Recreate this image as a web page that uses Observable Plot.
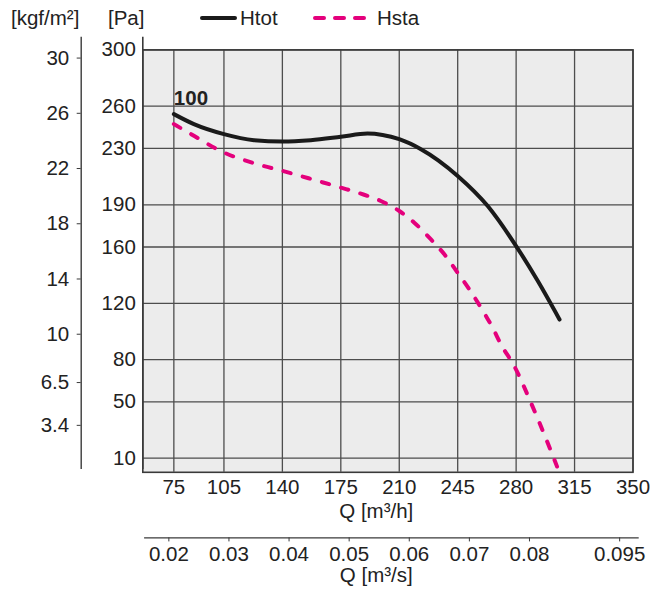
<!DOCTYPE html>
<html>
<head>
<meta charset="utf-8">
<script src="https://cdn.jsdelivr.net/npm/d3@7"></script>
<script src="https://cdn.jsdelivr.net/npm/@observablehq/plot@0.6"></script>
<style>
  html, body { margin: 0; padding: 0; background: #fff; }
  body { width: 653px; height: 594px; overflow: hidden; font-family: "Liberation Sans", Arial, sans-serif; color: #222; }
  #head { position: relative; height: 37px; font-size: 20.5px; }
  #head span { position: absolute; top: 6px; line-height: 24px; white-space: nowrap; }
  #head svg { position: absolute; top: 12px; }
</style>
</head>
<body>
<div id="head"></div>
<div id="chart"></div>
<script>
// ---- data ----
const qTicksH = [75, 105, 140, 175, 210, 245, 280, 315, 350];          // Q [m³/h]
const qTicksS = [0.02, 0.03, 0.04, 0.05, 0.06, 0.07, 0.08, 0.095];     // Q [m³/s]
const paTicks = [300, 260, 230, 190, 160, 120, 80, 50, 10];            // [Pa]
const kgfTicks = [30, 26, 22, 18, 14, 10, 6.5, 3.4];                   // [kgf/m²]

const qTot = [75, 87, 105, 123, 140, 157, 175, 191, 200, 210, 223, 245, 263, 280, 293, 306];
const hTot = [254.4, 247.3, 240.2, 235.9, 234.9, 235.9, 238.3, 240.6, 239.6, 236.6, 229.5, 210.5, 189.1, 160.7, 135.8, 108.5];

const qSta = [75, 87, 102, 125, 140, 161, 175, 187, 199, 210, 219, 229, 237, 245, 252, 259, 266, 271, 279, 289, 299, 304.5];
const hSta = [247.3, 239, 228.8, 218.8, 214.1, 207, 202.2, 197.9, 192.7, 185.6, 177.3, 165.4, 154.8, 141.7, 129.9, 116.8, 102.5, 90.7, 75.2, 49.1, 20.6, 4.1];

const curveLabel = "100";
const seriesNames = ["Htot", "Hsta"];
const colors = {Htot: "#1a1a1a", Hsta: "#e4007c"};

// ---- header (units + legend) ----
const head = document.getElementById("head");
head.innerHTML = `
  <span style="left:11px">[kgf/m²]</span>
  <span style="left:108px">[Pa]</span>
  <svg style="left:199px" width="40" height="12"><line x1="3" x2="36" y1="6" y2="6" stroke="${colors.Htot}" stroke-width="4" stroke-linecap="round"/></svg>
  <span style="left:240px">${seriesNames[0]}</span>
  <svg style="left:311px" width="60" height="12"><line x1="4" x2="56" y1="6" y2="6" stroke="${colors.Hsta}" stroke-width="4" stroke-linecap="round" stroke-dasharray="9,11"/></svg>
  <span style="left:377px">${seriesNames[1]}</span>
`;

// ---- chart ----
const tot = qTot.map((q, i) => ({q, h: hTot[i]}));
const sta = qSta.map((q, i) => ({q, h: hSta[i]}));
const FS = 20.5;
const gridColor = "#4d4d4d";

const chart = Plot.plot({
  width: 653,
  height: 557,
  marginTop: 12.4,
  marginBottom: 122.2,
  marginLeft: 142.3,
  marginRight: 20.5,
  style: {fontFamily: "'Liberation Sans', Arial, sans-serif", fontSize: FS + "px", color: "#222", background: "#fff", overflow: "visible"},
  x: {type: "linear", domain: [56.4, 350], axis: null},
  y: {type: "linear", domain: [0, 300], axis: null},
  marks: [
    Plot.frame({fill: "#ececec"}),
    Plot.gridX(qTicksH, {stroke: gridColor, strokeOpacity: 1, strokeWidth: 1.3}),
    Plot.gridY(paTicks, {stroke: gridColor, strokeOpacity: 1, strokeWidth: 1.3}),
    Plot.frame({stroke: "#3a3a3a", strokeWidth: 1.6}),
    // Pa axis line extended above the frame
    Plot.frame({anchor: "left", stroke: "#3a3a3a", strokeWidth: 1.6, insetTop: -12.4, insetBottom: 4}),
    // kgf/m² axis line
    Plot.frame({anchor: "left", stroke: "#3a3a3a", strokeWidth: 1.4, insetLeft: -61.6, insetTop: -12.4, insetBottom: 4}),
    // Pa labels
    Plot.axisY(paTicks, {anchor: "left", label: null, tickSize: 0, tickPadding: 7, fontSize: FS, fill: "#222"}),
    // kgf/m² ticks + labels
    Plot.axisY(kgfTicks.map(k => k * 9.80665), {anchor: "left", label: null, dx: -61.6, tickSize: 4, tickPadding: 8, stroke: "#3a3a3a", fontSize: FS, fill: "#222",
      tickFormat: (d, i) => String(kgfTicks[i])}),
    // m³/h labels
    Plot.axisX(qTicksH, {anchor: "bottom", label: null, tickSize: 0, tickPadding: 7, fontSize: FS, fill: "#222"}),
    Plot.text(["Q [m³/h]"], {text: d => d, frameAnchor: "bottom", dx: -11.6, dy: 46, fontSize: FS, fill: "#222"}),
    // m³/s axis
    Plot.frame({anchor: "bottom", stroke: "#3a3a3a", strokeWidth: 1.4, insetBottom: -65.6, insetLeft: 2, insetRight: -5}),
    Plot.axisX(qTicksS.map(s => s * 3600), {anchor: "bottom", label: null, dy: 65.6, tickSize: 4, tickPadding: 5, stroke: "#3a3a3a", fontSize: FS, fill: "#222",
      tickFormat: (d, i) => String(qTicksS[i])}),
    Plot.text(["Q [m³/s]"], {text: d => d, frameAnchor: "bottom", dx: -11.6, dy: 110, fontSize: FS, fill: "#222"}),
    // curves
    Plot.line(tot, {x: "q", y: "h", stroke: colors.Htot, strokeWidth: 4, curve: "monotone-x", strokeLinecap: "round"}),
    Plot.line(sta, {x: "q", y: "h", stroke: colors.Hsta, strokeWidth: 4, curve: "monotone-x", strokeLinecap: "round", strokeDasharray: "7.5,12.5"}),
    Plot.text([{q: qTot[0], h: hTot[0]}], {x: "q", y: "h", text: () => curveLabel, textAnchor: "start", lineAnchor: "bottom", dy: -9, fontWeight: "bold", fontSize: FS, fill: "#222"})
  ]
});
document.getElementById("chart").appendChild(chart);
</script>
</body>
</html>
